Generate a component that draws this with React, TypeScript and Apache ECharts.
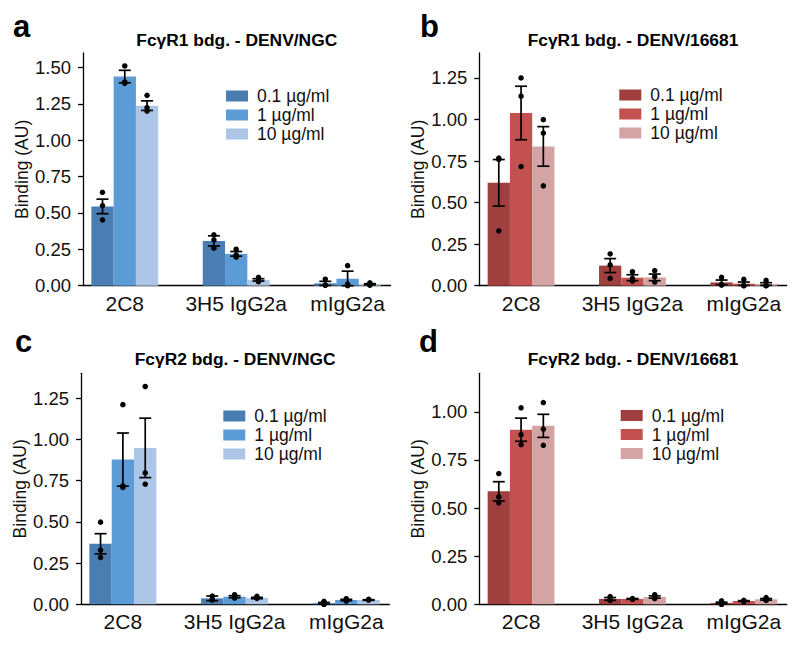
import React, { useEffect, useRef } from "react";
import * as echarts from "echarts";

// ---------- data ----------
const categories = ["2C8", "3H5 IgG2a", "mIgG2a"];
const concentrations = ["0.1 µg/ml", "1 µg/ml", "10 µg/ml"];

const panelLetters = ["a", "b", "c", "d"];
const panelTitles = [
  "FcγR1 bdg. - DENV/NGC",
  "FcγR1 bdg. - DENV/16681",
  "FcγR2 bdg. - DENV/NGC",
  "FcγR2 bdg. - DENV/16681",
];
const yMax = [1.6, 1.4, 1.4, 1.2];
const yTicksA = [0, 0.25, 0.5, 0.75, 1.0, 1.25, 1.5];
const yTicksB = [0, 0.25, 0.5, 0.75, 1.0, 1.25];
const yTicksC = [0, 0.25, 0.5, 0.75, 1.0, 1.25];
const yTicksD = [0, 0.25, 0.5, 0.75, 1.0];

// means[concentration][category]
const meansA = [
  [0.545, 0.308, 0.016],
  [1.438, 0.219, 0.048],
  [1.238, 0.04, 0.01],
];
const semsA = [
  [0.05, 0.035, 0.014],
  [0.043, 0.016, 0.052],
  [0.033, 0.008, 0.004],
];
const dotsA = [
  [[0.642, 0.55, 0.453], [0.35, 0.315, 0.258], [0.045, 0.005, 0.003]],
  [[1.511, 1.401, 1.392], [0.251, 0.212, 0.196], [0.138, 0.01, 0.0]],
  [[1.309, 1.224, 1.201], [0.058, 0.039, 0.028], [0.02, 0.006, 0.004]],
];

const meansB = [
  [0.619, 0.121, 0.02],
  [1.039, 0.048, 0.012],
  [0.838, 0.05, 0.01],
];
const semsB = [
  [0.14, 0.042, 0.014],
  [0.161, 0.018, 0.01],
  [0.119, 0.02, 0.008],
];
const dotsB = [
  [[0.76, 0.768, 0.33], [0.191, 0.125, 0.044], [0.05, 0.008, 0.004]],
  [[1.25, 1.14, 0.717], [0.084, 0.044, 0.028], [0.038, 0.0, 0.0]],
  [[0.999, 0.918, 0.601], [0.09, 0.054, 0.022], [0.032, 0.0, 0.0]],
];

const meansC = [
  [0.367, 0.036, 0.006],
  [0.877, 0.046, 0.026],
  [0.948, 0.038, 0.026],
];
const semsC = [
  [0.061, 0.014, 0.005],
  [0.161, 0.006, 0.004],
  [0.18, 0.004, 0.002],
];
const dotsC = [
  [[0.498, 0.329, 0.284], [0.05, 0.03, 0.026], [0.018, 0.0, 0.0]],
  [[1.21, 0.718, 0.708], [0.058, 0.05, 0.038], [0.034, 0.022, 0.02]],
  [[1.32, 0.796, 0.728], [0.048, 0.04, 0.036], [0.03, 0.028, 0.026]],
];

const meansD = [
  [0.587, 0.028, 0.007],
  [0.907, 0.028, 0.017],
  [0.927, 0.038, 0.026],
];
const semsD = [
  [0.05, 0.007, 0.004],
  [0.06, 0.002, 0.002],
  [0.06, 0.006, 0.004],
];
const dotsD = [
  [[0.679, 0.558, 0.527], [0.04, 0.024, 0.02], [0.018, 0.0, 0.0]],
  [[1.021, 0.881, 0.829], [0.028, 0.026, 0.03], [0.021, 0.017, 0.014]],
  [[1.048, 0.91, 0.826], [0.05, 0.036, 0.03], [0.035, 0.026, 0.02]],
];

// ---------- styles ----------
const FONT = "'Liberation Sans', Arial, Helvetica, sans-serif";
const blues = ["#4a7eb2", "#5b9bd6", "#adc5e6"];
const reds = ["#9f403f", "#c2514f", "#d4a3a4"];

const grids = [
  { left: 83, top: 53, width: 307.5, height: 232.7 },
  { left: 479.3, top: 53, width: 307.4, height: 232.7 },
  { left: 81, top: 373.3, width: 308.3, height: 231 },
  { left: 479.3, top: 373.3, width: 307.4, height: 231 },
];
const legendPos = [
  { left: 226, top: 86.5 },
  { left: 619.3, top: 85.5 },
  { left: 223.3, top: 406.5 },
  { left: 620.7, top: 406 },
];
const letterPos = [
  { x: 13, y: 42 },
  { x: 420, y: 42 },
  { x: 15, y: 357 },
  { x: 419, y: 357 },
];
const titleY = [40, 40, 359, 359];

const BAR_HALF = 0.1;
const OFFSET = 0.2;
const CAP = 6;

function buildOption() {
  const panels = [
    { means: meansA, sems: semsA, dots: dotsA, colors: blues, ticks: yTicksA },
    { means: meansB, sems: semsB, dots: dotsB, colors: reds, ticks: yTicksB },
    { means: meansC, sems: semsC, dots: dotsC, colors: blues, ticks: yTicksC },
    { means: meansD, sems: semsD, dots: dotsD, colors: reds, ticks: yTicksD },
  ];

  const series: any[] = [];
  const xAxis: any[] = [];
  const yAxis: any[] = [];
  const legend: any[] = [];
  const graphic: any[] = [];

  panels.forEach((p, pi) => {
    xAxis.push({
      type: "value",
      gridIndex: pi,
      min: -0.375,
      max: 2.385,
      splitLine: { show: false },
      axisTick: { show: false },
      axisLine: { show: true, onZero: false, lineStyle: { color: "#000", width: 1.3 } },
      axisLabel: {
        customValues: [0, 1, 2],
        formatter: (v: number) => categories[Math.round(v)] ?? "",
        fontSize: 21,
        color: "#111",
        fontFamily: FONT,
        margin: 7,
      },
    });
    yAxis.push({
      type: "value",
      gridIndex: pi,
      min: 0,
      max: yMax[pi],
      splitLine: { show: false },
      axisLine: { show: true, onZero: false, lineStyle: { color: "#000", width: 1.3 } },
      axisTick: {
        show: true,
        length: 5,
        customValues: p.ticks,
        lineStyle: { color: "#000", width: 1.3 },
      },
      axisLabel: {
        customValues: p.ticks,
        formatter: (v: number) => v.toFixed(2),
        fontSize: 18.5,
        color: "#111",
        fontFamily: FONT,
        margin: 12,
      },
      name: "Binding (AU)",
      nameLocation: "middle",
      nameGap: 52,
      nameTextStyle: { fontSize: 17.5, color: "#111", fontFamily: FONT },
    });

    concentrations.forEach((conc, ci) => {
      const color = p.colors[ci];
      const barData = categories.map((_, k) => [k + (ci - 1) * OFFSET, p.means[ci][k]]);
      series.push({
        type: "custom",
        name: conc,
        xAxisIndex: pi,
        yAxisIndex: pi,
        itemStyle: { color },
        data: barData,
        z: 2,
        renderItem: (params: any, api: any) => {
          const x = api.value(0);
          const y = api.value(1);
          const p1 = api.coord([x - BAR_HALF, y]);
          const p2 = api.coord([x + BAR_HALF, 0]);
          return {
            type: "rect",
            shape: { x: p1[0], y: p1[1], width: p2[0] - p1[0], height: p2[1] - p1[1] },
            style: { fill: color },
          };
        },
      });
      const errData = categories.map((_, k) => [
        k + (ci - 1) * OFFSET,
        Math.max(0, p.means[ci][k] - p.sems[ci][k]),
        p.means[ci][k] + p.sems[ci][k],
      ]);
      series.push({
        type: "custom",
        name: "err-" + pi + "-" + ci,
        xAxisIndex: pi,
        yAxisIndex: pi,
        data: errData,
        z: 3,
        renderItem: (params: any, api: any) => {
          const x = api.value(0);
          const lo = api.coord([x, api.value(1)]);
          const hi = api.coord([x, api.value(2)]);
          const st = { stroke: "#000", lineWidth: 1.7 };
          return {
            type: "group",
            children: [
              { type: "line", shape: { x1: lo[0], y1: lo[1], x2: hi[0], y2: hi[1] }, style: st },
              { type: "line", shape: { x1: lo[0] - CAP, y1: lo[1], x2: lo[0] + CAP, y2: lo[1] }, style: st },
              { type: "line", shape: { x1: hi[0] - CAP, y1: hi[1], x2: hi[0] + CAP, y2: hi[1] }, style: st },
            ],
          };
        },
      });
      const dotData: number[][] = [];
      categories.forEach((_, k) => {
        p.dots[ci][k].forEach((v) => dotData.push([k + (ci - 1) * OFFSET, v]));
      });
      series.push({
        type: "scatter",
        name: "dots-" + pi + "-" + ci,
        xAxisIndex: pi,
        yAxisIndex: pi,
        data: dotData,
        symbolSize: 5.5,
        itemStyle: { color: "#000", opacity: 1 },
        z: 4,
      });
    });

    legend.push({
      orient: "vertical",
      left: legendPos[pi].left,
      top: legendPos[pi].top,
      icon: "rect",
      itemWidth: 22,
      itemHeight: 11,
      itemGap: 0,
      selectedMode: false,
      padding: 0,
      textStyle: {
        fontSize: 17.5,
        color: "#111",
        fontFamily: FONT,
        lineHeight: 19,
        padding: [0, 0, 0, 4],
      },
      data: concentrations.map((c, ci) => ({ name: c, itemStyle: { color: p.colors[ci] } })),
    });

    graphic.push({
      type: "text",
      x: letterPos[pi].x,
      y: letterPos[pi].y,
      style: {
        text: panelLetters[pi],
        fontSize: 31,
        fontWeight: "bold",
        fontFamily: FONT,
        fill: "#000",
        verticalAlign: "bottom",
      },
    });
    graphic.push({
      type: "text",
      x: grids[pi].left + grids[pi].width / 2,
      y: titleY[pi],
      style: {
        text: panelTitles[pi],
        fontSize: 17.4,
        fontWeight: "bold",
        fontFamily: FONT,
        fill: "#000",
        align: "center",
        verticalAlign: "middle",
      },
    });
  });

  return {
    animation: false,
    backgroundColor: "#fff",
    grid: grids.map((g) => ({ ...g, containLabel: false })),
    xAxis,
    yAxis,
    legend,
    graphic,
    series,
  };
}

export default function App() {
  const ref = useRef<HTMLDivElement>(null);
  useEffect(() => {
    if (!ref.current) return;
    const chart = echarts.init(ref.current, null, { renderer: "svg" });
    chart.setOption(buildOption() as any);
    return () => chart.dispose();
  }, []);
  return (
    <div
      ref={ref}
      style={{ position: "fixed", left: 0, top: 0, width: 800, height: 647, background: "#fff" }}
    />
  );
}
